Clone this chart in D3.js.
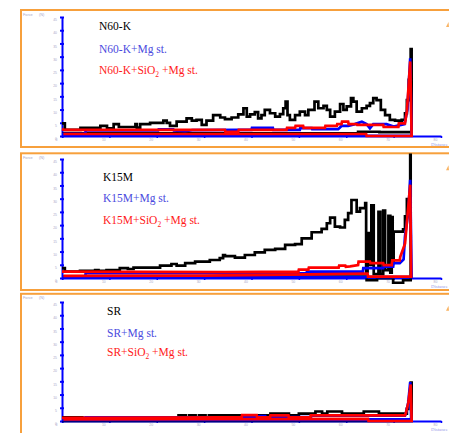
<!DOCTYPE html>
<html><head><meta charset="utf-8">
<script src="https://cdn.jsdelivr.net/npm/d3@7"></script>
<style>html,body{margin:0;padding:0;background:#fff;overflow:hidden}</style>
</head><body><svg id="c" width="449" height="433"></svg>
<script>
// ---------- DATA ----------
const samples = ["N60-K", "K15M", "SR"];
const seriesSuffix = ["", "+Mg st.", "+SiO2 +Mg st."];
const xTicks = [0, 10, 20, 30, 40, 50, 60, 70, 80];
const yTicks = [0, 5, 10, 15, 20, 25, 30, 35, 40, 45];
const yLabel = "Force";
const yUnit = "(N)";
const xLabel = "Distance";

// [distance, force] pairs (forward stroke, then return stroke)
const n60kPlain = [[0,4.8],[0.6,2.3],[3.8,2.3],[3.9,3.1],[8.0,3.1],[8.1,3.8],[9.4,3.8],[9.5,2.9],[10.8,2.9],[10.9,4.5],[11.9,4.5],[12,3.4],[15.4,3.4],[15.5,4.5],[15.8,3.2],[16.5,4.5],[18.6,5.0],[21.4,5.8],[22.1,5.0],[22.8,3.8],[24.2,5.4],[26.3,6.7],[27.4,5.8],[28.4,6.1],[29.5,4.2],[30.5,5.8],[31.9,7.9],[33.4,7.0],[34.4,6.4],[35.8,7.0],[37.2,8.2],[38.3,10.5],[39.0,7.3],[39.7,8.2],[40.7,9.0],[41.4,6.7],[42.1,7.9],[42.8,9.9],[43.9,8.6],[45.0,7.3],[46.0,8.3],[46.7,10.5],[47.2,13.0],[47.6,7.9],[48.1,6.1],[49.2,7.9],[50.2,9.2],[51.3,7.9],[52.0,9.9],[53.3,13.0],[54.1,10.5],[55.2,11.4],[55.9,9.9],[56.6,7.3],[57.6,9.2],[58.7,12.1],[59.4,9.9],[60.1,11.2],[61.0,14.3],[61.5,13.0],[62.2,9.2],[63.3,10.5],[64.3,11.4],[65.0,12.4],[65.7,14.3],[66.4,13.6],[67.3,9.9],[68.2,7.9],[69.2,6.1],[70.3,5.8],[71.7,6.1],[72.4,8.6],[72.8,13.6],[73.2,21.2],[73.6,32.9],[73.8,1.5],[70,1.5],[67,1.6],[63,1.6],[62.5,1.0],[40,1.0],[0.3,0.8]];
const n60kMg = [[0,0.8],[4.9,0.8],[5,2.1],[20.3,2.1],[20.4,2.5],[23.5,2.5],[23.6,2.1],[26,1.8],[27.5,2.2],[37.2,2.3],[40,2.3],[40.1,3.1],[44.5,3.1],[44.6,2.3],[50.2,2.3],[50.3,3.0],[52.7,3.0],[52.8,2.6],[58.3,2.6],[59,3.8],[60.4,3.8],[61.8,4.5],[63.3,5.4],[64.3,4.5],[65,2.9],[65.7,4.5],[68.5,4.5],[70,3.6],[72.3,4.5],[72.9,10],[73.5,29.4],[73.8,0.1],[0.3,0.1]];
const n60kSiMg = [[0,2.6],[0.5,2.3],[34.4,2.3],[34.5,1.6],[37.2,1.6],[37.3,2.3],[47.4,2.3],[47.5,3.1],[49.2,3.1],[49.3,3.8],[50.9,3.8],[51,3.1],[55.5,3.1],[55.6,3.8],[58,3.8],[58.1,4.5],[59,4.5],[59.1,5.4],[60.4,5.4],[60.5,4.5],[62.2,4.5],[62.3,4.2],[67.8,4.2],[67.9,3.4],[71,3.4],[71.1,4.8],[72.4,4.8],[72.8,9.5],[73.2,20],[73.5,28.2],[73.8,0],[64.3,0],[64.2,0.75],[0.3,0.75]];

const k15mPlain = [[0,3.7],[0.6,2.4],[3.8,2.7],[7.0,3.0],[7.7,2.7],[9.4,3.0],[12.2,3.7],[13.9,3.4],[15.1,3.9],[17.9,3.9],[20.7,4.7],[23.1,5.3],[24.2,4.7],[26.0,5.6],[28.1,6.2],[29.8,6.2],[31.2,6.8],[33.3,7.5],[34.0,8.7],[34.4,8.3],[36.5,7.7],[38.6,8.7],[40.7,9.7],[42.8,10.6],[45.0,11.0],[47.1,12.5],[49.2,12.8],[50.6,15.0],[52.7,17.3],[54.8,18.6],[55.9,20.7],[56.6,22.8],[57.6,19.4],[58.7,19.1],[59.7,22.0],[60.4,24.5],[61.1,29.5],[62.2,25.1],[62.9,26.4],[64.0,28.3],[64.2,2.4],[64.5,17],[64.8,5],[65.3,27.5],[65.8,1.5],[66.8,25],[67.2,1.5],[67.8,25.5],[68.2,3],[68.9,23.5],[69.3,2],[69.6,23],[69.8,6],[70.0,17.5],[72.0,18.4],[72.4,23.3],[72.8,29.8],[73.5,46.6],[73.6,-0.8],[72.3,-0.8],[72,-1.8],[70.3,-1.8],[69.9,-0.1],[66.6,-0.1],[66.5,-0.8],[64.6,-0.8],[64.3,0.5],[0.3,0.5]];
const k15mMg = [[0,0.5],[4.9,0.5],[5,1.8],[51.6,1.8],[51.7,2.4],[63.5,2.4],[63.6,3.7],[67.8,3.7],[67.9,4.3],[69.9,4.3],[70,5.6],[71.3,5.6],[72.1,7],[72.4,15.7],[73.1,25],[73.5,37.1],[73.8,0.3],[0.3,0.3]];
const k15mSiMg = [[0,2.4],[34.4,2.2],[49.9,2.4],[50,3.2],[52,3.2],[52.1,3.9],[58.4,3.9],[58.5,4.7],[59.8,4.7],[59.9,4.2],[60.8,4.4],[62.5,4.9],[62.6,6.2],[65,6.2],[65.1,5.6],[67.8,5.6],[67.9,4.9],[69.6,4.9],[69.7,6.7],[71.3,6.7],[71.4,8],[72.4,13],[72.9,23],[73.5,35.3],[73.7,0.5],[64.6,0.5],[64.5,1.7],[52,1.4],[30,0.9],[0.3,0.8]];

const srPlain = [[0,1.4],[4.2,1.4],[4.3,1.0],[24.5,1.0],[24.6,2.1],[26,2.1],[26.1,1.2],[26.7,1.2],[26.8,2.1],[28.1,2.1],[28.2,1.2],[28.8,1.2],[28.9,2.1],[30.2,2.1],[30.3,1.2],[30.9,1.2],[31,2.1],[43.9,2.1],[44,2.8],[47.8,2.8],[47.9,2.1],[49.9,2.1],[50,2.8],[53.4,2.8],[53.5,3.6],[54.8,3.6],[54.9,2.8],[55.9,2.8],[56,3.6],[59,3.6],[59.1,2.8],[63.6,2.8],[63.7,3.6],[66.8,3.6],[66.9,2.8],[72.4,2.8],[72.8,4.6],[73.1,7.4],[73.6,14.5],[73.8,0],[0.3,0.3]];
const srMg = [[0,0.3],[4.2,0.3],[4.9,1.4],[38.6,1.4],[40,1.5],[42,1.9],[42.9,1.9],[43,1.4],[52.6,1.6],[52.7,2.0],[72.4,2.0],[72.6,3.0],[73.1,7.0],[73.5,14.7],[73.7,0.6],[65,0.6],[64.9,0.3],[0.3,0.3]];
const srSiMg = [[0,1.2],[34.4,1.4],[37.9,1.4],[38,2.2],[41.1,2.2],[41.2,1.4],[43.9,1.4],[44,2.1],[47.8,2.1],[47.9,1.4],[52.4,1.4],[52.5,2.1],[72.4,2.1],[72.6,3.1],[73.1,6.9],[73.6,13.8],[73.8,0],[64.7,0],[64.6,0.8],[0.3,0.6]];

const panelSeries = [
  [n60kPlain, n60kMg, n60kSiMg],
  [k15mPlain, k15mMg, k15mSiMg],
  [srPlain, srMg, srSiMg]
];

// ---------- LAYOUT / STYLE ----------
const layout = [
  {frameTop: 10,    frameH: 137,   base: 136,   labelX: 99,  labelY: [30, 53, 74]},
  {frameTop: 153.3, frameH: 136.7, base: 278,   labelX: 103, labelY: [180.7, 201.7, 224]},
  {frameTop: 293.8, frameH: 160,   base: 421,   labelX: 107, labelY: [314.7, 336.7, 356.3]}
];
const lineColors = ["#000000", "#0000ff", "#ff0000"];
const textColors = ["#000000", "#4a4ade", "#ff1a1a"];
const frameColor = "#f7a03c";
const axisColor = "#0000ff";
const faint = "#a8a8c8";

const svg = d3.select("#c");
const x = d3.scaleLinear().domain([0, 80]).range([62, 441]);

layout.forEach((L, pi) => {
  const g = svg.append("g");
  const y = d3.scaleLinear().domain([0, 45]).range([L.base, L.base - 119]);

  // frame
  g.append("rect").attr("x", 21).attr("y", L.frameTop).attr("width", 470).attr("height", L.frameH)
    .attr("fill", "none").attr("stroke", frameColor).attr("stroke-width", 2);
  g.append("path")
    .attr("d", `M446,${L.frameTop + 17} L448.5,${L.frameTop + 12} L449,${L.frameTop + 17} Z`)
    .attr("fill", frameColor).attr("opacity", 0.8);

  // axis titles
  g.append("text").attr("x", 23).attr("y", L.frameTop + 5.6).text(yLabel)
    .attr("font-family", "Liberation Sans").attr("font-size", 3.8).attr("fill", faint);
  g.append("text").attr("x", 39).attr("y", L.frameTop + 5.6).text(yUnit)
    .attr("font-family", "Liberation Sans").attr("font-size", 3.8).attr("fill", faint);
  g.append("text").attr("x", 431).attr("y", L.base + 10.2).text(xLabel)
    .attr("font-family", "Liberation Serif").attr("font-size", 4.8).attr("fill", "#9a9ae8");

  // x axis
  const gx = g.append("g").attr("transform", `translate(0,${L.base})`)
    .call(d3.axisBottom(x).tickValues(xTicks).tickSizeInner(2).tickSizeOuter(0).tickPadding(0.6));
  gx.select(".domain").attr("stroke", axisColor).attr("stroke-width", 2);
  gx.selectAll(".tick line").attr("stroke", axisColor).attr("stroke-width", 1.5);
  gx.selectAll(".tick text").attr("font-size", 3.4).attr("fill", faint).attr("dx", -6)
    .attr("font-family", "Liberation Sans");

  // y axis
  const gy = g.append("g").attr("transform", `translate(${x(0)},0)`)
    .call(d3.axisLeft(y).tickValues(yTicks).tickSizeInner(2).tickSizeOuter(0).tickPadding(3));
  gy.select(".domain").attr("stroke", axisColor).attr("stroke-width", 2);
  gy.selectAll(".tick line").attr("x2", 2).attr("x1", -2).attr("stroke", axisColor).attr("stroke-width", 2);
  gy.selectAll(".tick text").attr("font-size", 3.4).attr("fill", faint).attr("dy", "1.1em")
    .attr("font-family", "Liberation Sans");

  // curves (black curve drawn as steps to mimic the sampled trace)
  panelSeries[pi].forEach((s, si) => {
    const line = d3.line().x(d => x(d[0])).y(d => y(d[1]))
      .curve(si === 0 ? d3.curveStepAfter : d3.curveLinear);
    g.append("path").attr("d", line(s)).attr("fill", "none")
      .attr("stroke", lineColors[si]).attr("stroke-width", 2.7)
      .attr("stroke-linejoin", "miter").attr("stroke-miterlimit", 2);
  });

  // labels
  seriesSuffix.forEach((suf, si) => {
    const t = g.append("text").attr("x", L.labelX).attr("y", L.labelY[si])
      .attr("font-family", "Liberation Serif").attr("font-size", 11.5).attr("fill", textColors[si]);
    const full = samples[pi] + suf;
    const k = full.indexOf("SiO2");
    if (k >= 0) {
      t.append("tspan").text(full.slice(0, k + 3));
      t.append("tspan").text("2").attr("font-size", 7.5).attr("dy", 3);
      t.append("tspan").text(full.slice(k + 4)).attr("dy", -3);
    } else {
      t.text(full);
    }
  });
});
</script></body></html>
